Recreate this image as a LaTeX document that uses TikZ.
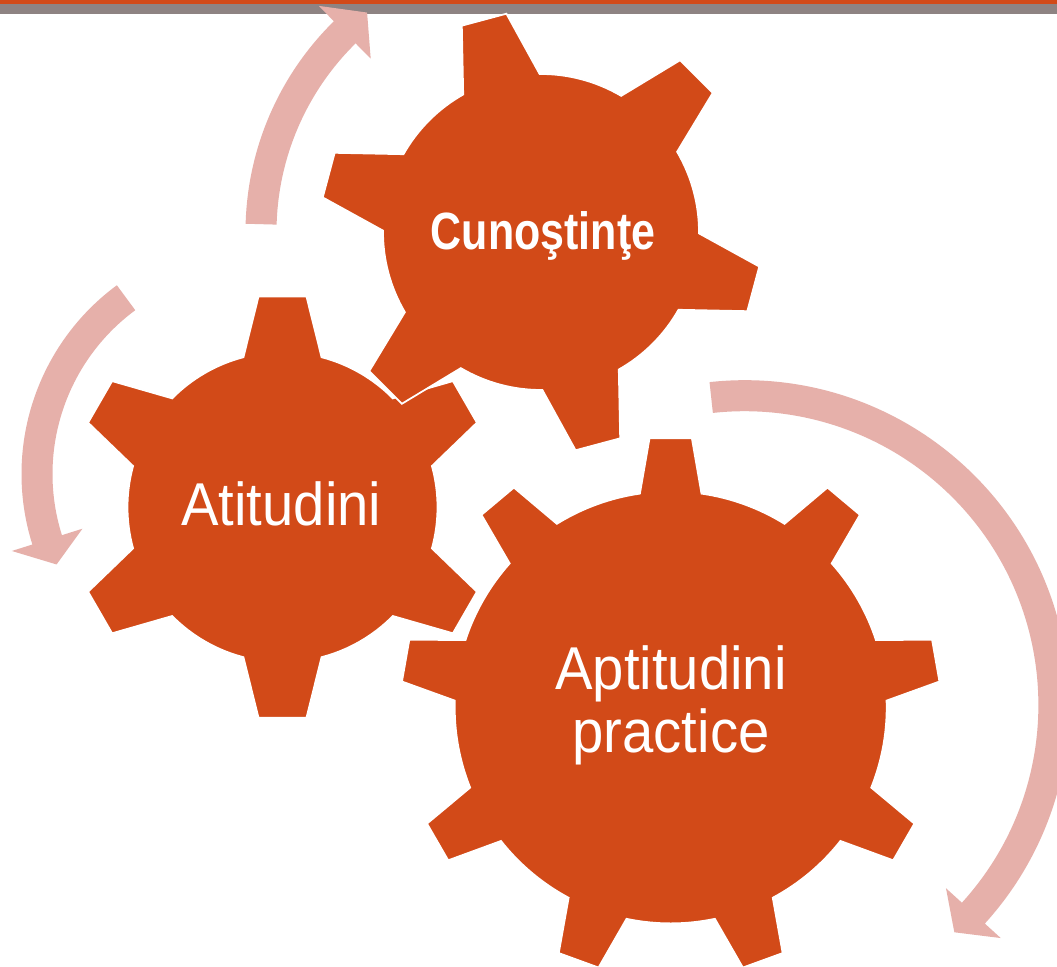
\documentclass[tikz,border=0pt]{standalone}
\usepackage{fontspec}
\newfontfamily\gearfont[FakeStretch=0.93]{Liberation Sans}
\newfontfamily\gearboldfont[FakeStretch=0.82]{Liberation Sans}
\definecolor{gearorange}{RGB}{210,74,24}
\definecolor{arrowpink}{RGB}{230,176,170}
\definecolor{bargray}{RGB}{142,131,130}

% gear: centre, root radius, tip radius, teeth, first tooth, half angle at root, half angle at tip
\newcommand{\gearshape}[7]{%
  \pgfmathsetmacro\gearstep{360/#4}%
  \pgfmathtruncatemacro\gearlast{#4-1}%
  \path[gear,shift={#1}] ({#5-#6}:#2)
    \foreach \i in {0,...,\gearlast} {
      -- ({#5+\i*\gearstep-#7}:#3) -- ({#5+\i*\gearstep+#7}:#3)
      -- ({#5+\i*\gearstep+#6}:#2)
      arc[start angle={#5+\i*\gearstep+#6}, end angle={#5+(\i+1)*\gearstep-#6}, radius=#2]
    } -- cycle;%
}
% bent arrow: centre, mid radius, start angle, head base angle, tip angle
\newcommand{\bentarrow}[5]{%
  \path[ring,shift={#1}] ({#3}:{#2+15.5}) arc[start angle=#3, end angle=#4, radius=#2+15.5]
    -- ({#4}:{#2+37}) -- ({#5}:#2) -- ({#4}:{#2-37}) -- ({#4}:{#2-15.5})
    arc[start angle=#4, end angle=#3, radius=#2-15.5] -- cycle;%
}

\begin{document}
\begin{tikzpicture}[x=0.01cm,y=0.01cm,
    gear/.style={fill=gearorange, draw=white, line width=0.5pt},
    ring/.style={fill=arrowpink},
    geartext/.style={text=white, inner sep=0pt, font=\gearfont\fontsize{17.2}{18}\selectfont}]
  \useasboundingbox (0,0) rectangle (1057,966);
  \clip (0,0) rectangle (1057,966);
  \fill[white] (0,0) rectangle (1057,966);
  % top bar
  \fill[bargray] (0,952) rectangle (1057,962);
  \fill[gearorange] (0,962) rectangle (1057,966);

  % gears
  \gearshape{(670.7,258.6)}{216}{270}{9}{10}{8.2}{4.5}
  \gearshape{(282.5,458.8)}{155}{212}{6}{30}{14.6}{6.5}
  \gearshape{(541,734)}{158}{221}{6}{105}{14.5}{6}

  % arrows
  \bentarrow{(541,734)}{280}{178.4}{134.5}{128.4}
  \bentarrow{(256,492)}{219}{126.4}{197.5}{204.4}
  \bentarrow{(744.6,261)}{309.3}{96.2}{-42.3}{-47.3}

  \node[geartext, font=\gearboldfont\bfseries\fontsize{14.9}{16}\selectfont, anchor=base] (know) at (543,716.7) {Cunoştinţe};
  \node[geartext, anchor=base] (attit) at (281.4,440) {Atitudini};
  \node[geartext, align=center] (skill) at (671,260.7) {Aptitudini\\practice};
\end{tikzpicture}
\end{document}
